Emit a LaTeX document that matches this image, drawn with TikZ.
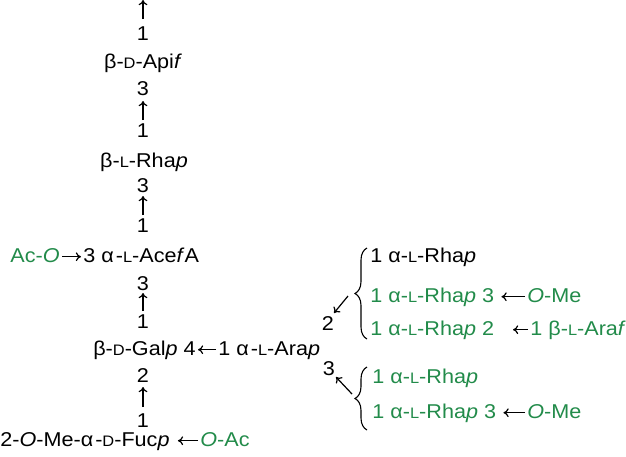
\documentclass[tikz,border=0pt]{standalone}
\usepackage{fontspec}
\setmainfont{Liberation Sans}[FakeStretch=1.08]
\usetikzlibrary{arrows.meta,decorations.pathreplacing}
\definecolor{glgreen}{RGB}{34,139,74}
\newcommand\smcap[1]{{\fontsize{7.6pt}{8pt}\selectfont #1}}
\newcommand\Dd{\smcap{D}}
\newcommand\Ll{\smcap{L}}
\begin{document}
\begin{tikzpicture}[x=0.5pt,y=-0.5pt,
  t/.style={anchor=base,inner sep=0pt,font=\fontsize{10pt}{12pt}\selectfont},
  tw/.style={t,anchor=base west},
  te/.style={t,anchor=base east},
  g/.style={text=glgreen},
  arr/.style={-{To[length=2.6pt,width=4.4pt]},line width=0.6pt},
  harr/.style={arr,shorten <=1pt,shorten >=1pt},
  brc/.style={decorate,decoration={brace,amplitude=6pt},line width=0.55pt}]
\useasboundingbox (0,0) rectangle (626,456);
% main column
\coordinate (top) at (143,0);
\node[t] (n1a) at (143,40) {1};
\node[t] (apif) at (143,68) {β-\Dd-Api\textit{f}};
\node[t] (n3a) at (143,95) {3};
\node[t] (n1b) at (143,137) {1};
\node[t] (rha) at (144,167) {β-\Ll-Rha\textit{p}};
\node[t] (n3b) at (143,192) {3};
\node[t] (n1c) at (143,232) {1};
\node[te,g] (aco) at (60,262) {Ac-\textit{O}};
\node[tw] (acef) at (83,262) {3 α\kern1pt-\Ll-Ace\textit{f}A};
\node[t] (n3c) at (143,290) {3};
\node[t] (n1d) at (143,328) {1};
\node[te] (galp) at (196,355) {β-\Dd-Gal\textit{p} 4};
\node[tw] (arap) at (218,355) {1 α\kern1pt-\Ll-Ara\textit{p}};
\node[t] (n2a) at (143,382) {2};
\node[t] (n1e) at (143,427) {1};
\node[tw] (fuc) at (0,446) {2-\textit{O}-Me-α\kern1pt-\Dd-Fuc\textit{p}};
\node[tw,g] (oac) at (200,446) {\textit{O}-Ac};
\draw[arr,shorten <=10.5pt] (n1a.base) -- (top);
\draw[arr,shorten <=8.5pt,shorten >=3pt] (n1b.base) -- (n3a.base);
\draw[arr,shorten <=8.5pt,shorten >=2pt] (n1c.base) -- (n3b.base);
\draw[arr,shorten <=8.5pt,shorten >=1.5pt] (n1d.base) -- (n3c.base);
\draw[arr,shorten <=10pt,shorten >=2.5pt] (n1e.base) -- (n2a.base);
\draw[harr] (aco.mid east) -- (acef.mid west);
\draw[harr] (arap.mid west) -- (galp.mid east);
\draw[harr,shorten >=4pt] (oac.mid west) -- (fuc.mid east);
% right side
\node[t] (l2) at (328,330) {2};
\node[t] (l3) at (329,375) {3};
\coordinate (d1s) at (348,296);
\coordinate (d1e) at (334,313);
\coordinate (d2s) at (352,394);
\coordinate (d2e) at (336,377);
\draw[arr] (d1s) -- (d1e);
\draw[arr] (d2s) -- (d2e);
\draw[brc] (367,339) -- (367,248);
\draw[brc] (367,430) -- (367,367);
% brace 1
\node[tw] (b1a) at (370,262) {1 α-\Ll-Rha\textit{p}};
\node[tw,g] (b1b) at (370,302) {1 α-\Ll-Rha\textit{p} 3};
\node[tw,g] (b1bm) at (527,302) {\textit{O}-Me};
\node[tw,g] (b1c) at (370,335) {1 α-\Ll-Rha\textit{p} 2};
\node[tw,g] (b1cm) at (530,335) {1 β-\Ll-Ara\textit{f}};
\draw[harr,shorten >=3.5pt] (b1bm.mid west) -- (b1b.mid east);
\draw[harr] (b1cm.mid west) -- ++(-19,0) coordinate (b1ce);
% brace 2
\node[tw,g] (b2a) at (372,383) {1 α-\Ll-Rha\textit{p}};
\node[tw,g] (b2b) at (372,418) {1 α-\Ll-Rha\textit{p} 3};
\node[tw,g] (b2bm) at (527,418) {\textit{O}-Me};
\draw[harr,shorten >=3.5pt] (b2bm.mid west) -- (b2b.mid east);
\end{tikzpicture}
\end{document}
